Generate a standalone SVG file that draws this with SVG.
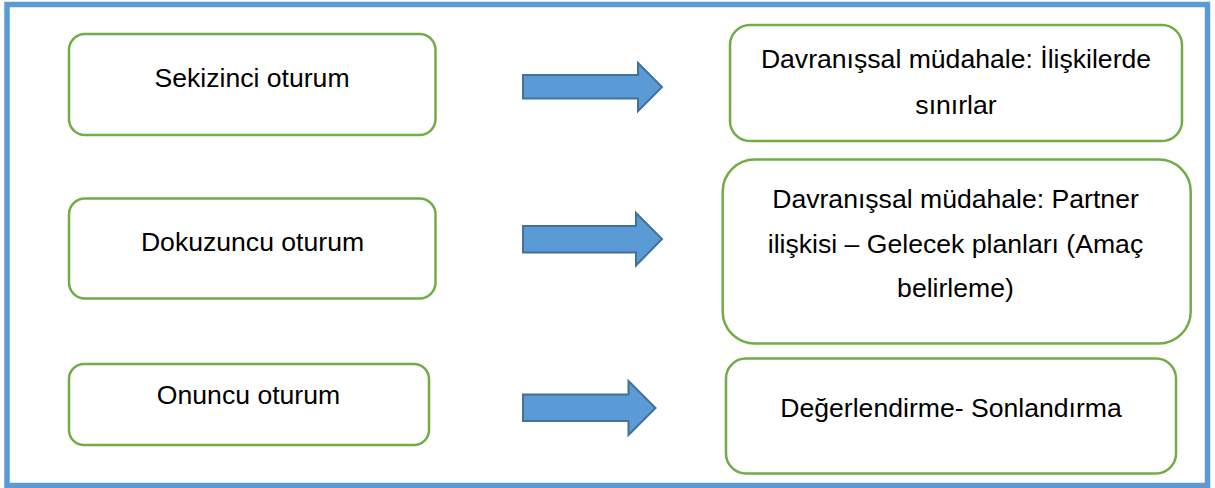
<svg xmlns="http://www.w3.org/2000/svg" width="1215" height="488" viewBox="0 0 1215 488">
<style>
.box{fill:#fff;stroke:#70AD47;stroke-width:2.5}
.t{font-family:"Liberation Sans",Arial,sans-serif;font-size:26.6px;fill:#000;text-anchor:middle}
.arr{fill:#5B9BD5;stroke:#41719C;stroke-width:2}
</style>
<rect x="0" y="0" width="1215" height="488" fill="#fff"/>
<rect id="frame" x="7" y="4.5" width="1200.5" height="481" fill="none" stroke="#5B9BD5" stroke-width="5.5"/>
<g id="n1"><rect class="box" x="69" y="34" width="366.5" height="101" rx="16"/><text class="t" x="252" y="87">Sekizinci oturum</text></g>
<g id="n2"><rect class="box" x="69" y="198.5" width="366.5" height="100" rx="16"/><text class="t" x="252.5" y="251">Dokuzuncu oturum</text></g>
<g id="n3"><rect class="box" x="69" y="364" width="360" height="81" rx="15"/><text class="t" x="248.5" y="404">Onuncu oturum</text></g>
<g id="r1"><rect class="box" x="730" y="25" width="452" height="116" rx="20"/><text class="t" x="956" y="68">Davranışsal müdahale: İlişkilerde</text><text class="t" x="956" y="114">sınırlar</text></g>
<g id="r2"><rect class="box" x="722.7" y="159.5" width="468" height="184" rx="32"/><text class="t" x="955.5" y="208">Davranışsal müdahale: Partner</text><text class="t" x="955.5" y="252.5">ilişkisi – Gelecek planları (Amaç</text><text class="t" x="955.5" y="296.5">belirleme)</text></g>
<g id="r3"><rect class="box" x="726" y="358.5" width="450" height="115" rx="20"/><text class="t" x="951" y="417">Değerlendirme- Sonlandırma</text></g>
<g id="connectors">
<polygon class="arr" points="523,75 638,75 638,63 662,87 638,111 638,98.5 523,98.5"/>
<polygon class="arr" points="523,226 636,226 636,213 662,239 636,265.5 636,252.5 523,252.5"/>
<polygon class="arr" points="523,394.5 628.5,394.5 628.5,381 655.5,408 628.5,435 628.5,421 523,421"/>
</g>
</svg>
